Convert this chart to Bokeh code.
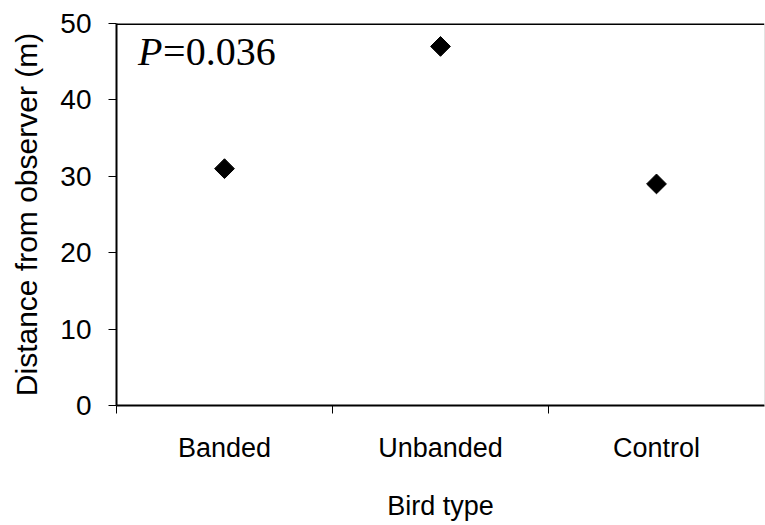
import numpy as np
from bokeh.plotting import figure
from bokeh.models import FixedTicker, Span, Label, Range1d, ColumnDataSource
from bokeh.embed import file_html
from bokeh.resources import INLINE

categories = ["Banded", "Unbanded", "Control"]
distance = [31, 47, 29]
y_ticks = [0, 10, 20, 30, 40, 50]
p_value_text = "=0.036"

x_pos = [i + 0.5 for i in range(len(categories))]
src = ColumnDataSource(dict(x=x_pos, y=distance))

p = figure(width=765, height=525, output_backend="svg", toolbar_location=None,
           x_range=Range1d(0, len(categories)), y_range=Range1d(0, 50),
           min_border_left=116, min_border_right=1, min_border_top=23, min_border_bottom=120)
p.background_fill_color = "white"
p.border_fill_color = "white"
p.outline_line_color = None
p.grid.visible = False

p.scatter("x", "y", source=src, marker="square", angle=np.pi / 4, size=14,
          fill_color="black", line_color="black")

FONT = "Liberation Sans"
# x axis
xa = p.xaxis[0]
xa.ticker = FixedTicker(ticks=x_pos, minor_ticks=list(range(len(categories))))
xa.major_label_overrides = {x: c for x, c in zip(x_pos, categories)}
xa.major_tick_out = 0
xa.major_tick_in = 0
xa.minor_tick_out = 8
xa.minor_tick_in = 0
xa.minor_tick_line_color = "black"
xa.axis_line_width = 2
xa.axis_line_color = "black"
xa.major_label_text_font = FONT
xa.major_label_text_font_size = "27px"
xa.major_label_text_color = "black"
xa.major_label_standoff = 19
xa.axis_label = "Bird type"
xa.axis_label_text_font = FONT
xa.axis_label_text_font_size = "27px"
xa.axis_label_text_font_style = "normal"
xa.axis_label_text_color = "black"
xa.axis_label_standoff = 25

ya = p.yaxis[0]
ya.ticker = FixedTicker(ticks=y_ticks)
ya.major_tick_out = 8
ya.major_tick_in = 0
ya.minor_tick_out = 0
ya.minor_tick_in = 0
ya.axis_line_width = 2
ya.axis_line_color = "black"
ya.major_label_text_font = FONT
ya.major_label_text_font_size = "28px"
ya.major_label_text_color = "black"
ya.major_label_standoff = 17
ya.axis_label = "Distance from observer (m)"
ya.axis_label_text_font = FONT
ya.axis_label_text_font_size = "30px"
ya.axis_label_text_font_style = "normal"
ya.axis_label_text_color = "black"
ya.axis_label_standoff = 14

p.add_layout(Span(location=50, dimension="width", line_color="black", line_width=3))
p.add_layout(Span(location=len(categories), dimension="height", line_color="#c8c8c8", line_width=1))

p.add_layout(Label(x=0.1, y=46.4, text="P", text_font="Liberation Serif",
                   text_font_style="italic", text_font_size="40px", text_color="black",
                   text_baseline="alphabetic"))
p.add_layout(Label(x=0.1, y=46.4, x_offset=25, text=p_value_text, text_font="Liberation Serif",
                   text_font_size="40px", text_color="black", text_baseline="alphabetic"))

open("out.html", "w").write(file_html(p, INLINE))
